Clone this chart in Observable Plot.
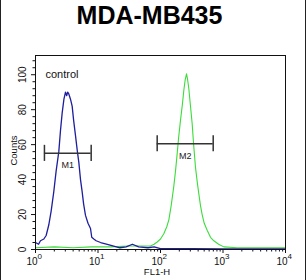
<!DOCTYPE html>
<html>
<head>
<meta charset="utf-8">
<script src="https://cdn.jsdelivr.net/npm/d3@7"></script>
<script src="https://cdn.jsdelivr.net/npm/@observablehq/plot@0.6"></script>
<style>
  html, body { margin: 0; padding: 0; background: #fff; }
  #chart { position: relative; width: 306px; height: 280px; overflow: hidden; }
  #chart::before, #chart::after { content: ""; position: absolute; top: 0; bottom: 0; width: 1px; background: #222; }
  #chart::before { left: 0; }
  #chart::after { right: 0; }
  svg { display: block; }
</style>
</head>
<body>
<div id="chart"></div>
<script>
const title = "MDA-MB435";
const xLabel = "FL1-H";
const yLabel = "Counts";
const legendText = "control";

// control (blue) histogram: fluorescence value, counts
const blueX = [1.0, 1.12, 1.2, 1.36, 1.48, 1.63, 1.78, 1.96, 2.14, 2.36, 2.51, 2.67, 2.85, 3.02, 3.16, 3.27, 3.41, 3.63, 3.86, 4.07, 4.37, 4.68, 4.93, 5.25, 5.58, 5.89, 6.31, 6.92, 7.59, 7.94, 8.57, 9.33, 11, 14.1, 17.8, 22.4, 28.2, 35.5, 44.7, 63, 79, 100, 158, 316, 1000, 3162, 10000];
const blueY = [4, 3, 5, 6, 8, 14, 22, 33, 45, 56, 68, 78, 86, 90, 88, 90, 89, 86, 82, 74, 65, 56, 50, 40, 33, 26, 19.5, 15, 12, 7, 6, 5, 4, 3, 2, 1, 1.5, 3, 1.5, 1, 1.5, 0.5, 0.5, 0.5, 0.3, 0.3, 0.3];

// sample (green) histogram
const greenX = [1, 2, 4, 7.9, 15.8, 31.6, 50, 69, 79, 88.5, 100, 113, 126, 136, 148, 163, 174, 185, 195, 209, 224, 236, 248, 261, 272, 284, 302, 321, 339, 363, 389, 410, 437, 464, 501, 558, 631, 713, 851, 1031, 1687, 3162, 6310, 10000];
const greenY = [1, 1.5, 1, 1.5, 1.5, 2, 2, 2, 3, 4.3, 6, 9, 13, 17, 25, 36, 45, 55, 64, 74, 83, 91, 97, 100.5, 97, 92, 82, 72, 60, 47, 38, 32, 25, 20, 15, 11, 7, 5, 3, 1.5, 1, 1, 1, 1];

// gate markers
const markerLabels = ["M1", "M2"];
const markerStart = [1.39, 88.5];
const markerEnd = [7.78, 697];
const markerCount = [55, 60.5];

const xMajor = [1, 10, 100, 1000, 10000];
const xExponents = ["0", "1", "2", "3", "4"];
const xMinor = [2,3,4,5,6,7,8,9,20,30,40,50,60,70,80,90,200,300,400,500,600,700,800,900,2000,3000,4000,5000,6000,7000,8000,9000];
const yMajor = [0, 20, 40, 60, 80, 100];
const yMinor = [4,8,12,16,24,28,32,36,44,48,52,56,64,68,72,76,84,88,92,96,104,108];

const blue = blueX.map((x, i) => ({x, y: blueY[i]}));
const green = greenX.map((x, i) => ({x, y: greenY[i]}));
const markers = markerLabels.map((label, i) => ({label, x1: markerStart[i], x2: markerEnd[i], y: markerCount[i], xm: Math.sqrt(markerStart[i] * markerEnd[i])}));
const markerEnds = markers.flatMap(m => [{x: m.x1, y: m.y}, {x: m.x2, y: m.y}]);

const font = "'Liberation Sans', Arial, sans-serif";
const gate = "#333";

const plot = Plot.plot({
  width: 306,
  height: 280,
  marginLeft: 35,
  marginRight: 21,
  marginTop: 55,
  marginBottom: 31,
  style: {fontFamily: font, background: "transparent", color: "#111", overflow: "visible"},
  x: {type: "log", domain: [1, 10000], axis: null},
  y: {domain: [0, 111], axis: null},
  marks: [
    Plot.axisX({ticks: xMajor, tickSize: 4, tickFormat: () => "", label: null, stroke: "#111"}),
    Plot.axisX({ticks: xMinor, tickSize: 2.5, tickFormat: () => "", label: null, stroke: "#111"}),
    Plot.axisY({ticks: yMajor, tickSize: 4, tickFormat: () => "", label: null, stroke: "#111"}),
    Plot.axisY({ticks: yMinor, tickSize: 2.5, tickFormat: () => "", label: null, stroke: "#111"}),
    Plot.text(xMajor, {x: d => d, text: () => "10", frameAnchor: "bottom", dy: 12.5, dx: 2, textAnchor: "end", lineAnchor: "middle", fontSize: 10, fill: "#111"}),
    Plot.text(xMajor, {x: d => d, text: (d, i) => xExponents[i], frameAnchor: "bottom", dy: 6.5, dx: 2, textAnchor: "start", lineAnchor: "middle", fontSize: 8, fill: "#111"}),
    Plot.text(yMajor, {y: d => d, text: d => String(d), frameAnchor: "left", dx: -13, rotate: -90, textAnchor: "middle", lineAnchor: "middle", fontSize: 10, fill: "#111"}),
    Plot.text([yLabel], {frameAnchor: "left", dx: -22, dy: -2, rotate: -90, textAnchor: "middle", lineAnchor: "middle", fontSize: 9.5, fill: "#111"}),
    Plot.text([xLabel], {x: () => 88, frameAnchor: "bottom", dy: 22.5, textAnchor: "middle", lineAnchor: "middle", fontSize: 9.5, fill: "#111"}),
    Plot.text([title], {frameAnchor: "top-left", dx: 114, dy: -39.5, textAnchor: "middle", lineAnchor: "middle", fontSize: 25, fontWeight: "bold", fill: "#000"}),
    Plot.text([legendText], {x: () => 1.445, y: () => 100, textAnchor: "start", lineAnchor: "middle", fontSize: 11, fill: "#111"}),
    Plot.line(green, {x: "x", y: "y", stroke: "#3cdc3c", strokeWidth: 1.1}),
    Plot.line(blue, {x: "x", y: "y", stroke: "#1e1e9e", strokeWidth: 1.3}),
    Plot.ruleY(markers, {x1: "x1", x2: "x2", y: "y", stroke: gate, strokeWidth: 1.5}),
    Plot.ruleX(markerEnds, {x: "x", y1: d => d.y - 4.6, y2: d => d.y + 4.6, stroke: gate, strokeWidth: 1.5}),
    Plot.text(markers, {x: "xm", y: "y", text: "label", dy: 12, textAnchor: "middle", lineAnchor: "middle", fontSize: 9, fill: "#222"}),
    Plot.frame({stroke: "#111", strokeWidth: 1})
  ]
});
document.getElementById("chart").appendChild(plot);
</script>
</body>
</html>
